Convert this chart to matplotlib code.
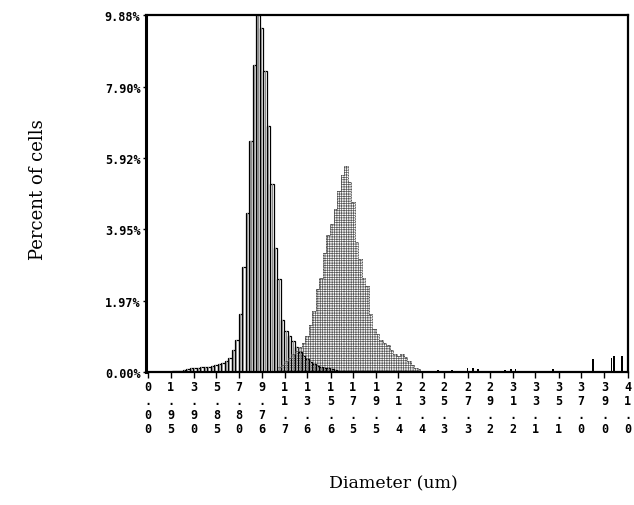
import matplotlib
matplotlib.use("Agg")
import matplotlib.pyplot as plt

# bin centres (um) and percent of cells
small_centers = [2.2, 2.5, 2.8, 3.1, 3.4, 3.7, 4.0, 4.3, 4.6, 4.9, 5.2, 5.5,
                 5.8, 6.1, 6.4, 6.7, 7.0, 7.3, 7.6, 7.9, 8.2, 8.5, 8.8, 9.1,
                 9.4, 9.7, 10.0, 10.3, 10.6, 10.9, 11.2, 11.5, 11.8, 12.1,
                 12.4, 12.7, 13.0, 13.3, 13.6, 13.9, 14.2, 14.5, 14.8, 15.1,
                 15.4, 15.7, 16.0]
small_pct = [0.02, 0.03, 0.04, 0.06, 0.08, 0.10, 0.11, 0.12, 0.13, 0.14, 0.15,
             0.17, 0.20, 0.22, 0.26, 0.30, 0.38, 0.60, 0.90, 1.60, 2.90, 4.40,
             6.40, 8.50, 9.88, 9.53, 8.34, 6.80, 5.20, 3.43, 2.58, 1.45, 1.14,
             1.00, 0.85, 0.70, 0.55, 0.45, 0.35, 0.28, 0.22, 0.18, 0.15, 0.12,
             0.10, 0.08, 0.06]

large_centers = [11.2, 11.5, 11.8, 12.1, 12.4, 12.7, 13.0, 13.3, 13.6, 13.9,
                 14.2, 14.5, 14.8, 15.1, 15.4, 15.7, 16.0, 16.3, 16.6, 16.9,
                 17.2, 17.5, 17.8, 18.1, 18.4, 18.7, 19.0, 19.3, 19.6, 19.9,
                 20.2, 20.5, 20.8, 21.1, 21.4, 21.7, 22.0, 22.3, 22.6, 22.9,
                 23.2]
large_pct = [0.15, 0.20, 0.30, 0.40, 0.50, 0.58, 0.68, 0.80, 1.00, 1.30, 1.70,
             2.30, 2.60, 3.30, 3.80, 4.10, 4.50, 5.00, 5.45, 5.71, 5.26, 4.70,
             3.60, 3.13, 2.60, 2.38, 1.60, 1.20, 1.05, 0.90, 0.80, 0.75, 0.60,
             0.50, 0.45, 0.50, 0.42, 0.30, 0.20, 0.12, 0.08]

# scattered debris bins on the right
debris_centers = [24.8, 25.4, 26.0, 27.3, 27.8, 28.2, 29.5, 30.5, 31.0, 31.4,
                  32.9, 34.6, 38.0, 39.6, 39.8, 40.5]
debris_pct = [0.05, 0.04, 0.05, 0.10, 0.12, 0.08, 0.04, 0.05, 0.08, 0.08,
              0.04, 0.08, 0.36, 0.40, 0.44, 0.44]

bin_w = 0.3

x_ticks = [0.00, 1.95, 3.90, 5.85, 7.80, 9.76, 11.7, 13.6, 15.6, 17.5, 19.5,
           21.4, 23.4, 25.3, 27.3, 29.2, 31.2, 33.1, 35.1, 37.0, 39.0, 41.0]
x_tick_text = ["0.00", "1.95", "3.90", "5.85", "7.80", "9.76", "11.7", "13.6",
               "15.6", "17.5", "19.5", "21.4", "23.4", "25.3", "27.3", "29.2",
               "31.2", "33.1", "35.1", "37.0", "39.0", "41.0"]
y_ticks = [0.00, 1.97, 3.95, 5.92, 7.90, 9.88]

plt.rcParams["hatch.linewidth"] = 0.5

fig = plt.figure(figsize=(6.34, 5.06), dpi=100)
ax = fig.add_axes([0.2303, 0.2628, 0.760, 0.7055])

# broad population: stippled
ax.bar(large_centers, large_pct, width=bin_w, color="white",
       edgecolor="0.35", linewidth=0, hatch="+++++++")
ax.step(large_centers, large_pct, where="mid", color="0.3", linewidth=0.7,
        linestyle=(0, (1, 0.6)))

# narrow population: striped bars
ax.bar(small_centers, small_pct, width=bin_w, facecolor="none",
       edgecolor="black", linewidth=0.9)
ax.bar(small_centers, small_pct, width=bin_w * 0.3, color="0.55")
ax.bar(debris_centers, debris_pct, width=0.15, color="black")

ax.set_xlim(-0.17, 41.0)
ax.set_ylim(0, 9.88)

mono = {"family": "DejaVu Sans Mono", "weight": "bold", "size": 8.5}
ax.set_yticks(y_ticks)
ax.set_yticklabels(["%.2f%%" % v for v in y_ticks], fontdict=mono)
ax.set_xticks(x_ticks)
ax.set_xticklabels(["\n".join(t) for t in x_tick_text], fontdict=mono,
                   linespacing=1.1, va="top")
ax.tick_params(axis="y", length=2, width=1, pad=2)
ax.tick_params(axis="x", length=4, width=1, pad=2)

for s in ax.spines.values():
    s.set_linewidth(1.6)
ax.spines["left"].set_linewidth(2.2)

fig.text(0.06, 0.6245, "Percent of cells", rotation=90, ha="center",
         va="center", family="DejaVu Serif", size=13)
fig.text(0.62, 0.0435, "Diameter (um)", ha="center", va="center",
         family="DejaVu Serif", size=12.5)

fig.savefig("out.png", dpi=100)
